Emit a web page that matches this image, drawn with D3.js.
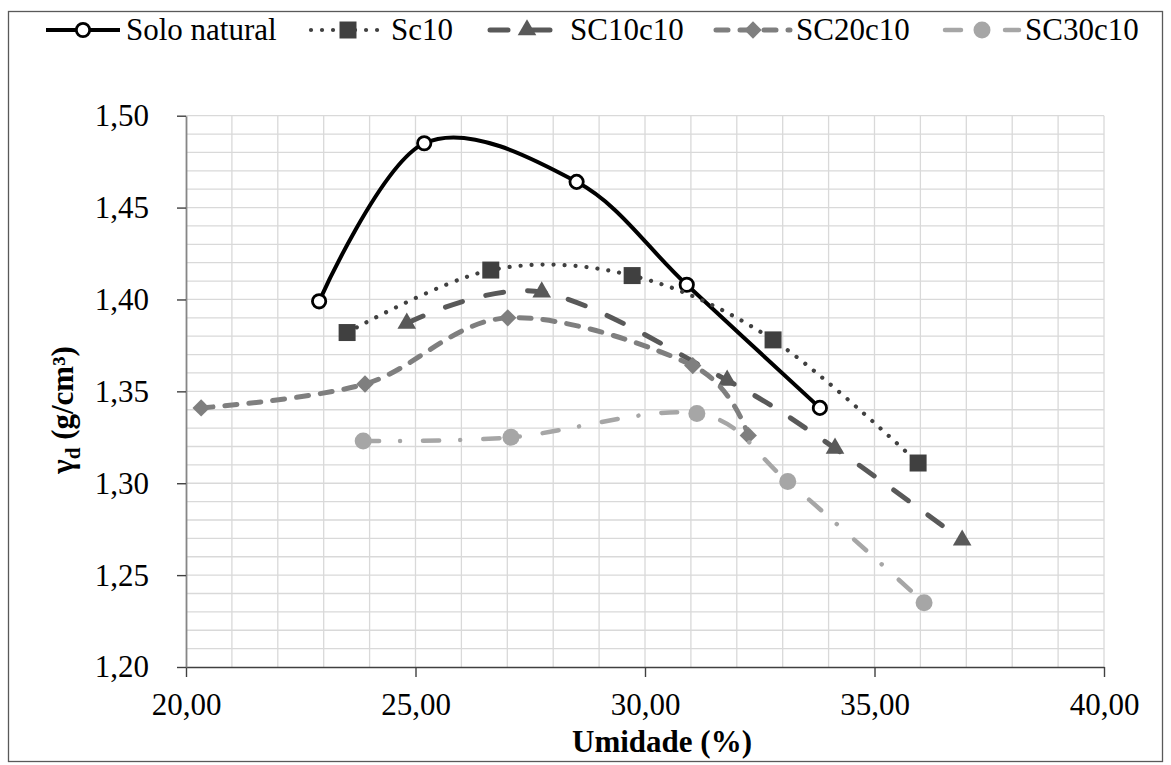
<!DOCTYPE html>
<meta charset="utf-8">
<title>Compactação</title>
<style>
body { margin: 0; background: #fff; }
svg, svg text { font-family: "Liberation Serif", "Tinos", "Times New Roman", "DejaVu Serif", serif !important; }
.grid line { stroke: #d9d9d9; stroke-width: 1.3; }
.axis text { font-size: 31px; }
</style>
<body>
<svg width="1171" height="765"></svg>

<script src="https://d3js.org/d3.v7.min.js"></script>

<script>

// values: [umidade %, peso específico seco g/cm3]
var seriesNames = ["Solo natural", "Sc10", "SC10c10", "SC20c10", "SC30c10"];
var soloNatural = [[22.90, 1.399], [25.19, 1.485], [28.51, 1.464], [30.91, 1.408], [33.81, 1.341]];
var sc10        = [[23.51, 1.382], [26.64, 1.416], [29.72, 1.413], [32.79, 1.378], [35.95, 1.311]];
var sc10c10     = [[24.81, 1.387], [27.75, 1.404], [31.79, 1.356], [34.14, 1.319], [36.91, 1.269]];
var sc20c10     = [[20.33, 1.341], [23.90, 1.354], [27.01, 1.390], [31.04, 1.364], [32.25, 1.326]];
var sc30c10     = [[23.86, 1.323], [27.08, 1.325], [31.13, 1.338], [33.11, 1.301], [36.08, 1.235]];
var xTicks = [20, 25, 30, 35, 40];
var yTicks = [1.20, 1.25, 1.30, 1.35, 1.40, 1.45, 1.50];

var serif = "'Liberation Serif', Tinos, 'Times New Roman', 'DejaVu Serif', serif";

var series = [
  {name: seriesNames[0], values: soloNatural, color: "#000000", width: 4,   dash: null,            marker: "open"},
  {name: seriesNames[1], values: sc10,        color: "#404040", width: 4.2, dash: "0.01 11",       marker: "square"},
  {name: seriesNames[2], values: sc10c10,     color: "#595959", width: 5,   dash: "18 24",         marker: "triangle"},
  {name: seriesNames[3], values: sc20c10,     color: "#7f7f7f", width: 5,   dash: "12 12",         marker: "diamond"},
  {name: seriesNames[4], values: sc30c10,     color: "#a6a6a6", width: 4.5, dash: "16 21 0.01 23", marker: "circle"}
];

var svg = d3.select("svg").attr("font-family", serif);

var pt = d3.formatLocale({decimal: ",", thousands: ".", grouping: [3], currency: ["", ""]});

var x = d3.scaleLinear().domain([20, 40]).range([186, 1104]),
    y = d3.scaleLinear().domain([1.20, 1.50]).range([667, 115.7]);

// outer frame
svg.append("rect")
    .attr("x", 8.5).attr("y", 11.5)
    .attr("width", 1154).attr("height", 750)
    .attr("fill", "none")
    .attr("stroke", "#595959")
    .attr("stroke-width", 1.3);

// gridlines
var grid = svg.append("g").attr("class", "grid");
grid.selectAll(".v")
  .data(d3.range(21, 40.5, 1))
  .enter().append("line")
    .attr("x1", function(d) { return x(d); })
    .attr("x2", function(d) { return x(d); })
    .attr("y1", y(1.20)).attr("y2", y(1.50));
grid.selectAll(".h")
  .data(d3.range(1, 31).map(function(i) { return 1.20 + i / 100; }))
  .enter().append("line")
    .attr("x1", x(20)).attr("x2", x(40))
    .attr("y1", function(d) { return y(d); })
    .attr("y2", function(d) { return y(d); });

// axes
var gx = svg.append("g")
    .attr("class", "axis")
    .attr("transform", "translate(0," + y(1.20) + ")")
    .call(d3.axisBottom(x).tickValues(xTicks).tickSize(10).tickSizeOuter(0)
      .tickPadding(16).tickFormat(pt.format(".2f")));
gx.attr("font-family", serif);
gx.select(".domain").attr("stroke", "#404040").attr("stroke-width", 1.4);
gx.selectAll(".tick line").attr("stroke", "#404040").attr("stroke-width", 1.4);
gx.selectAll("text").attr("fill", "#000").attr("font-family", serif);

var gy = svg.append("g")
    .attr("class", "axis")
    .attr("transform", "translate(" + x(20) + ",0)")
    .call(d3.axisLeft(y).tickValues(yTicks).tickSize(9).tickSizeOuter(0)
      .tickPadding(28).tickFormat(pt.format(".2f")));
gy.attr("font-family", serif);
gy.select(".domain").attr("stroke", "#868686").attr("stroke-width", 1.8);
gy.selectAll(".tick line").attr("stroke", "#404040").attr("stroke-width", 1.4);
gy.selectAll("text").attr("fill", "#000").attr("font-family", serif);

// axis titles
svg.append("text")
    .attr("x", 662).attr("y", 752)
    .attr("text-anchor", "middle")
    .attr("font-family", serif)
    .style("font-size", "31px").style("font-weight", "bold")
    .text("Umidade (%)");

var yt = svg.append("text")
    .attr("transform", "translate(73,410) rotate(-90)")
    .attr("text-anchor", "middle")
    .attr("font-family", serif)
    .style("font-size", "31px").style("font-weight", "bold");
yt.append("tspan").text("γ");
yt.append("tspan").attr("dy", 7).style("font-size", "21px").text("d");
yt.append("tspan").attr("dy", -7).text(" (g/cm³)");

// lines
var line = d3.line()
    .x(function(d) { return x(d[0]); })
    .y(function(d) { return y(d[1]); })
    .curve(d3.curveCardinal.tension(0));

function markerPath(type) {
  if (type == "square") return d3.symbol(d3.symbolSquare, 289)();
  if (type == "triangle") return d3.symbol(d3.symbolTriangle, 150)();
  if (type == "diamond") return d3.symbol(d3.symbolSquare, 150)();
  if (type == "circle") return d3.symbol(d3.symbolCircle, 227)();
  return d3.symbol(d3.symbolCircle, 140)();
}

function drawMarker(sel, s) {
  sel.append("path")
      .attr("d", markerPath(s.marker))
      .attr("transform", function(d) {
        return "translate(" + d[0] + "," + d[1] + ")" + (s.marker == "diamond" ? " rotate(45)" : "");
      })
      .attr("fill", s.marker == "open" ? "#fff" : s.color)
      .attr("stroke", s.marker == "open" ? s.color : "none")
      .attr("stroke-width", 2.8);
}

series.forEach(function(s) {
  var g = svg.append("g");
  g.append("path")
      .datum(s.values)
      .attr("d", line)
      .attr("fill", "none")
      .attr("stroke", s.color)
      .attr("stroke-width", s.width)
      .attr("stroke-linecap", s.dash ? "round" : "butt")
      .attr("stroke-dasharray", s.dash);
  g.selectAll(".m")
    .data(s.values.map(function(d) { return [x(d[0]), y(d[1])]; }))
    .enter().call(function(sel) { drawMarker(sel, s); });
});

// legend: text start of each entry, sample line sits just before it
var legendText = [126, 391, 570, 796, 1025],
    legendY = 30;
series.forEach(function(s, i) {
  var g = svg.append("g");
  var x0 = legendText[i] - 80, x1 = legendText[i] - 6;
  g.append("line")
      .attr("x1", x0).attr("x2", x1)
      .attr("y1", legendY).attr("y2", legendY)
      .attr("stroke", s.color)
      .attr("stroke-width", s.width)
      .attr("stroke-linecap", s.dash ? "round" : "butt")
      .attr("stroke-dasharray", s.dash);
  g.selectAll(".m")
    .data([[(x0 + x1) / 2, legendY]])
    .enter().call(function(sel) { drawMarker(sel, s); });
  g.append("text")
      .attr("x", legendText[i]).attr("y", legendY + 10)
      .attr("font-family", serif)
      .style("font-size", "31px")
      .text(s.name);
});

</script>
</body>
